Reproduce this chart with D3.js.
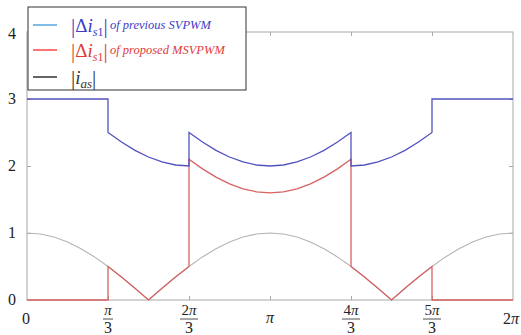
<!DOCTYPE html>
<html><head><meta charset="utf-8">
<script src="https://cdn.jsdelivr.net/npm/d3@7"></script>
<style>body{margin:0;background:#fff}svg{display:block}text{font-family:"Liberation Serif","Times New Roman","DejaVu Serif",serif}</style>
</head><body>
<script>
// angle in degrees
const angles = [0,10,20,30,40,50,60,70,80,90,100,110,120,130,140,150,160,170,180,190,200,210,220,230,240,250,260,270,280,290,300,310,320,330,340,350,360];
const iasValues = [1,0.985,0.94,0.866,0.766,0.643,0.5,0.342,0.174,0,0.174,0.342,0.5,0.643,0.766,0.866,0.94,0.985,1,0.985,0.94,0.866,0.766,0.643,0.5,0.342,0.174,0,0.174,0.342,0.5,0.643,0.766,0.866,0.94,0.985,1];
// previous SVPWM (with jumps as repeated angles)
const prevAngles = [0,60,60,70,80,90,100,110,120,120,130,140,150,160,170,180,190,200,210,220,230,240,240,250,260,270,280,290,300,300,360];
const prevValues = [3,3,2.5,2.357,2.234,2.134,2.06,2.015,2,2.5,2.357,2.234,2.134,2.06,2.015,2,2.015,2.06,2.134,2.234,2.357,2.5,2,2.015,2.06,2.134,2.234,2.357,2.5,3,3];
// proposed MSVPWM
const propAngles = [0,60,60,70,80,90,100,110,120,120,130,140,150,160,170,180,190,200,210,220,230,240,240,250,260,270,280,290,300,300,360];
const propValues = [0,0,0.5,0.342,0.174,0,0.174,0.342,0.5,2.1,1.957,1.834,1.734,1.66,1.615,1.6,1.615,1.66,1.734,1.834,1.957,2.1,0.5,0.342,0.174,0,0.174,0.342,0.5,0,0];

const xTickValues = [0,60,120,180,240,300,360];
const xTickNums = ["0","π","2π","π","4π","5π","2π"];
const xTickDens = ["","3","3","","3","3",""];
const yTickValues = [0,1,2,3,4];
const yTickLabels = ["0","1","2","3","4"];

const W=521,H=335;
const svg=d3.select("body").append("svg").attr("width",W).attr("height",H);
const x=d3.scaleLinear().domain([0,360]).range([27,513]);
const y=d3.scaleLinear().domain([0,4]).range([300,32]);

const line=d3.line().x(d=>x(d[0])).y(d=>y(d[1]));
const frameC="#a8a8a8";

// frame
svg.append("rect").attr("x",x(0)).attr("y",y(4)).attr("width",x(360)-x(0)).attr("height",y(0)-y(4))
  .attr("fill","none").attr("stroke",frameC).attr("stroke-width",1);

// ticks via axes
const inner=[60,120,180,240,300];
const axB=svg.append("g").attr("transform",`translate(0,${y(0)})`).call(d3.axisBottom(x).tickValues(inner).tickSize(-4).tickSizeOuter(0).tickFormat(""));
const axT=svg.append("g").attr("transform",`translate(0,${y(4)})`).call(d3.axisTop(x).tickValues(inner).tickSize(-4).tickSizeOuter(0).tickFormat(""));
const axL=svg.append("g").attr("transform",`translate(${x(0)},0)`).call(d3.axisLeft(y).tickValues([1,2,3]).tickSize(-4).tickSizeOuter(0).tickFormat(""));
const axR=svg.append("g").attr("transform",`translate(${x(360)},0)`).call(d3.axisRight(y).tickValues([1,2,3]).tickSize(-4).tickSizeOuter(0).tickFormat(""));
[axB,axT,axL,axR].forEach(a=>{a.select(".domain").remove();a.selectAll("line").attr("stroke",frameC);});

// curves
svg.append("path").datum(d3.zip(angles,iasValues)).attr("d",line).attr("fill","none").attr("stroke","#b4b4b4").attr("stroke-width",1.1);
svg.append("path").datum(d3.zip(propAngles,propValues)).attr("d",line).attr("fill","none").attr("stroke","#d66262").attr("stroke-width",1.3);
svg.append("path").datum(d3.zip(prevAngles,prevValues)).attr("d",line).attr("fill","none").attr("stroke","#5252bf").attr("stroke-width",1.3);

// y labels
yTickValues.forEach((v,i)=>{
  svg.append("text").attr("x",12).attr("y",y(v)+5+(v===4?2:0)).attr("text-anchor","middle")
    .attr("font-size",16).attr("fill","#222").text(yTickLabels[i]);
});
// x labels
function mathText(sel,str){
  for(const ch of str){
    sel.append("tspan").attr("font-style",ch==="π"?"italic":"normal").text(ch);
  }
}
xTickValues.forEach((v,i)=>{
  const cx = v===0?26:(v===360?511:x(v));
  if(xTickDens[i]===""){
    const t=svg.append("text").attr("x",cx).attr("y",v===180?323:324).attr("text-anchor","middle")
      .attr("font-size",16).attr("fill","#222");
    mathText(t,xTickNums[i]);
  } else {
    const t=svg.append("text").attr("x",cx).attr("y",315).attr("text-anchor","middle")
      .attr("font-size",15).attr("fill","#222");
    mathText(t,xTickNums[i]);
    const w = xTickNums[i].length>1?18:10;
    svg.append("line").attr("x1",cx-w/2).attr("x2",cx+w/2).attr("y1",319).attr("y2",319).attr("stroke","#222").attr("stroke-width",0.8);
    svg.append("text").attr("x",cx).attr("y",333).attr("text-anchor","middle")
      .attr("font-size",16).attr("fill","#222").text(xTickDens[i]);
  }
});

// legend
const legendColors=["#3a9ad9","#ff2a2a","#111"];
const legendText=["of previous SVPWM","of proposed MSVPWM",""];
const legendTextColors=["#3c3cc8","#e03a3a","#333"];
svg.append("rect").attr("x",28).attr("y",7).attr("width",218).attr("height",83).attr("fill","#fff").attr("stroke","#333").attr("stroke-width",1);
const rowsY=[25,50,77];
legendColors.forEach((c,i)=>{
  const ly=rowsY[i];
  svg.append("line").attr("x1",33).attr("x2",57).attr("y1",ly).attr("y2",ly).attr("stroke",c).attr("stroke-width",1.3);
  const t=svg.append("text").attr("x",71).attr("y",ly+7).attr("font-size",19).attr("fill",legendTextColors[i]);
  t.append("tspan").attr("font-size",21).attr("dy",1).text("|");
  if(i<2){
    t.append("tspan").attr("dy",-1).text("Δ");
    t.append("tspan").attr("font-style","italic").text("i");
    t.append("tspan").attr("font-style","italic").attr("font-size",12).attr("dy",4).text("s");
    t.append("tspan").attr("font-size",12).text("1");
    t.append("tspan").attr("font-size",21).attr("dy",-3).text("|");
    svg.append("text").attr("x",110).attr("y",ly+4).attr("font-style","italic")
      .attr("font-size",12.5).attr("fill",legendTextColors[i]).text(legendText[i]);
  } else {
    t.append("tspan").attr("dy",-1).attr("font-style","italic").text("i");
    t.append("tspan").attr("font-style","italic").attr("font-size",13).attr("dy",4).text("as");
    t.append("tspan").attr("font-size",21).attr("dy",-3).text("|");
  }
});
</script>
</body></html>
